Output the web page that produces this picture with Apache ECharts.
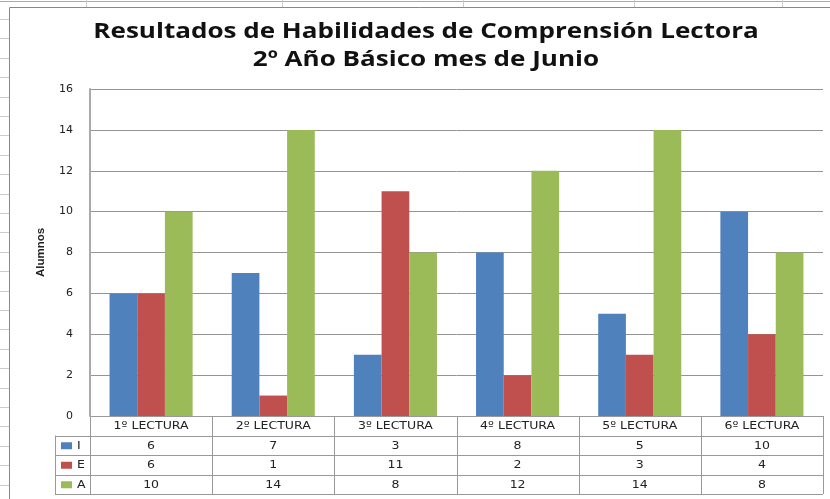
<!DOCTYPE html>
<html>
<head>
<meta charset="utf-8">
<script src="https://cdn.jsdelivr.net/npm/echarts@6/dist/echarts.min.js"></script>
<style>
  html, body { margin: 0; padding: 0; background: #fff; }
  #chart { width: 830px; height: 499px; }
</style>
</head>
<body>
<div id="chart"></div>
<script>
const categories = ['1º LECTURA', '2º LECTURA', '3º LECTURA', '4º LECTURA', '5º LECTURA', '6º LECTURA'];
const serieI = [6, 7, 3, 8, 5, 10];
const serieE = [6, 1, 11, 2, 3, 4];
const serieA = [10, 14, 8, 12, 14, 8];
const seriesNames = ['I', 'E', 'A'];
const titleLines = ['Resultados de Habilidades de Comprensión Lectora', '2º Año Básico mes de Junio'];
const colors = ['#4F81BD', '#C0504D', '#9BBB59'];

const chart = echarts.init(document.getElementById('chart'));

const option = {
  animation: false,
  color: colors,
  grid: { left: 90, right: 7, top: 89, bottom: 83 },
  xAxis: {
    type: 'category',
    data: categories,
    axisLine: { show: false },
    axisTick: { show: false },
    axisLabel: { show: false },
    splitLine: { show: false }
  },
  yAxis: {
    type: 'value',
    min: 0,
    max: 16,
    interval: 2,
    name: 'Alumnos',
    nameLocation: 'middle',
    nameGap: 43,
    nameRotate: 90,
    nameTextStyle: {
      fontFamily: 'Liberation Sans',
      fontWeight: 'bold',
      fontSize: 11.5,
      color: '#222'
    },
    axisLine: { show: true, lineStyle: { color: '#aaa', width: 2 } },
    axisTick: { show: false },
    axisLabel: {
      margin: 17,
      fontFamily: 'DejaVu Sans',
      fontSize: 11,
      color: '#222'
    },
    splitLine: { lineStyle: { color: '#949494', width: 1 } }
  },
  series: [serieI, serieE, serieA].map((d, i) => ({
    name: seriesNames[i],
    type: 'bar',
    data: d,
    barGap: '0%',
    barCategoryGap: '32%'
  }))
};

chart.setOption(option);

// spreadsheet background, title and data table, placed from the axes
function buildGraphics() {
  const els = [];
  const W = 830, H = 499;
  // sheet grid around the chart
  els.push({ type: 'line', shape: { x1: 0, y1: 1.5, x2: W, y2: 1.5 }, style: { stroke: '#aaa', lineWidth: 1 }, z: -10 });
  [86, 282, 463, 634, 782].forEach(x => {
    els.push({ type: 'line', shape: { x1: x + 0.5, y1: 0, x2: x + 0.5, y2: 7 }, style: { stroke: '#ccc', lineWidth: 1 }, z: -10 });
  });
  for (let y = 19; y < H; y += 19.4) {
    els.push({ type: 'line', shape: { x1: 0, y1: Math.round(y) + 0.5, x2: 9, y2: Math.round(y) + 0.5 }, style: { stroke: '#ccc', lineWidth: 1 }, z: -10 });
  }
  // chart border
  els.push({ type: 'polyline', shape: { points: [[9.5, H], [9.5, 7.5], [W, 7.5]] }, style: { stroke: '#888', lineWidth: 1, fill: null }, z: -5 });

  // title (the screenshot is stretched sideways, hence scaleX)
  titleLines.forEach((t, i) => {
    els.push({ type: 'text', x: 426, y: 32 + i * 28, scaleX: 1.24,
      style: { text: t, font: 'bold 21px "Open Sans"', fill: '#111', align: 'center', verticalAlign: 'middle' } });
  });

  const y0 = chart.convertToPixel({ yAxisIndex: 0 }, 0);
  const c0 = chart.convertToPixel({ xAxisIndex: 0 }, 0);
  const c1 = chart.convertToPixel({ xAxisIndex: 0 }, 1);
  const step = c1 - c0;
  const xl = c0 - step / 2;
  const xr = xl + step * categories.length;
  const rowH = 19.5;
  const keyL = 55;
  const lineStyle = { stroke: '#999', lineWidth: 1 };
  const font = '10px "DejaVu Sans"';
  const sx = 1.25;

  // horizontal lines
  els.push({ type: 'line', shape: { x1: xl, y1: y0 + 0.5, x2: xr, y2: y0 + 0.5 }, style: lineStyle });
  for (let r = 1; r <= 4; r++) {
    const y = Math.round(y0 + r * rowH) + 0.5;
    els.push({ type: 'line', shape: { x1: keyL, y1: y, x2: xr, y2: y }, style: lineStyle });
  }
  // vertical lines
  for (let c = 0; c <= categories.length; c++) {
    const x = Math.round(xl + c * step) + 0.5;
    els.push({ type: 'line', shape: { x1: x, y1: y0, x2: x, y2: y0 + 4 * rowH }, style: lineStyle });
  }
  els.push({ type: 'line', shape: { x1: keyL + 0.5, y1: y0 + rowH, x2: keyL + 0.5, y2: y0 + 4 * rowH }, style: lineStyle });

  // header
  categories.forEach((cat, i) => {
    els.push({ type: 'text', x: c0 + i * step, y: y0 + rowH / 2 + 1, scaleX: sx,
      style: { text: cat, font: font, fill: '#222', align: 'center', verticalAlign: 'middle' } });
  });
  // data rows
  [serieI, serieE, serieA].forEach((d, r) => {
    const yc = y0 + (r + 1.5) * rowH + 1;
    els.push({ type: 'rect', shape: { x: 61, y: yc - 4, width: 11, height: 7 }, style: { fill: colors[r] } });
    els.push({ type: 'text', x: 77, y: yc, scaleX: sx, style: { text: seriesNames[r], font: font, fill: '#222', align: 'left', verticalAlign: 'middle' } });
    d.forEach((v, i) => {
      els.push({ type: 'text', x: c0 + i * step, y: yc, scaleX: sx,
        style: { text: String(v), font: font, fill: '#222', align: 'center', verticalAlign: 'middle' } });
    });
  });
  chart.setOption({ graphic: { elements: els } });
}
buildGraphics();
</script>
</body>
</html>
